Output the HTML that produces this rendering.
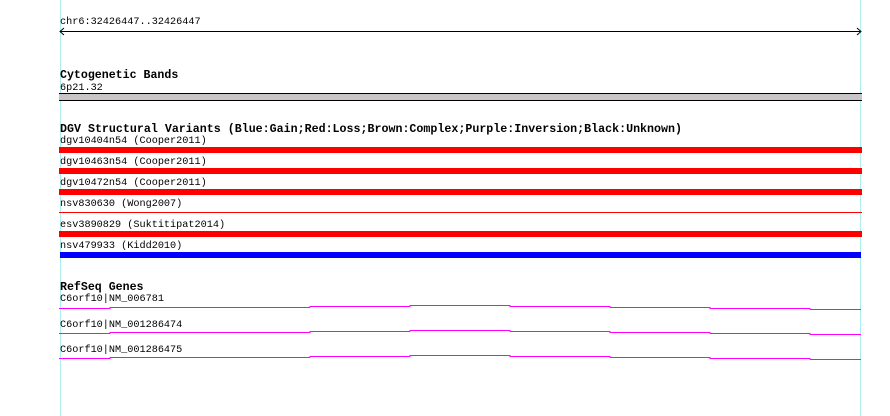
<!DOCTYPE html>
<html><head><style>body{margin:0;background:#fff}svg{display:block}</style></head><body>
<svg width="890" height="416" xmlns="http://www.w3.org/2000/svg" font-family="Liberation Mono, DejaVu Sans Mono, monospace">
<rect width="890" height="416" fill="#fff"/>
<line x1="60.5" y1="0" x2="60.5" y2="416" stroke="#aeeef0"/>
<line x1="860.5" y1="0" x2="860.5" y2="416" stroke="#aeeef0"/>
<text x="60" y="24" font-size="10.2">chr6:32426447..32426447</text>
<line x1="60" y1="31.5" x2="860" y2="31.5" stroke="#000"/>
<polyline points="64,28 60,31.5 64,35" fill="none" stroke="#000"/>
<polyline points="857,28 861,31.5 857,35" fill="none" stroke="#000"/>
<text x="60" y="78" font-size="11.6" font-weight="bold">Cytogenetic Bands</text>
<text x="60" y="90" font-size="10.2">6p21.32</text>
<rect x="59" y="93" width="803" height="8" fill="#c8c4c8"/>
<line x1="59" y1="93.5" x2="862" y2="93.5" stroke="#000"/>
<line x1="59" y1="100.5" x2="862" y2="100.5" stroke="#000"/>
<text x="60" y="132" font-size="11.6" font-weight="bold" textLength="622" lengthAdjust="spacingAndGlyphs">DGV Structural Variants (Blue:Gain;Red:Loss;Brown:Complex;Purple:Inversion;Black:Unknown)</text>
<g font-size="10.2">
<text x="60" y="143">dgv10404n54 (Cooper2011)</text>
<text x="60" y="164">dgv10463n54 (Cooper2011)</text>
<text x="60" y="185">dgv10472n54 (Cooper2011)</text>
<text x="60" y="206">nsv830630 (Wong2007)</text>
<text x="60" y="227">esv3890829 (Suktitipat2014)</text>
<text x="60" y="248">nsv479933 (Kidd2010)</text>
</g>
<rect x="59" y="147" width="803" height="6" fill="#f00"/>
<rect x="59" y="168" width="803" height="6" fill="#f00"/>
<rect x="59" y="189" width="803" height="6" fill="#f00"/>
<rect x="59" y="212" width="803" height="1" fill="#f00"/>
<rect x="59" y="231" width="803" height="6" fill="#f00"/>
<rect x="60" y="252" width="801" height="6" fill="#00f"/>
<text x="60" y="290" font-size="11.6" font-weight="bold">RefSeq Genes</text>
<g font-size="10.2">
<text x="60" y="301">C6orf10|NM_006781</text>
<text x="60" y="327">C6orf10|NM_001286474</text>
<text x="60" y="352">C6orf10|NM_001286475</text>
</g>
<g fill="none" stroke="#f0f" stroke-width="1">
<polyline points="59,308.5 110,308.5 110,307.5 310,307.5 310,306.5 410,306.5 410,305.5 510,305.5 510,306.5 610,306.5 610,307.5 710,307.5 710,308.5 810,308.5 810,309.5 861,309.5"/>
<polyline points="59,333.5 110,333.5 110,332.5 310,332.5 310,331.5 410,331.5 410,330.5 510,330.5 510,331.5 610,331.5 610,332.5 710,332.5 710,333.5 810,333.5 810,334.5 861,334.5"/>
<polyline points="59,358.5 110,358.5 110,357.5 310,357.5 310,356.5 410,356.5 410,355.5 510,355.5 510,356.5 610,356.5 610,357.5 710,357.5 710,358.5 810,358.5 810,359.5 861,359.5"/>
</g>
</svg>
</body></html>
